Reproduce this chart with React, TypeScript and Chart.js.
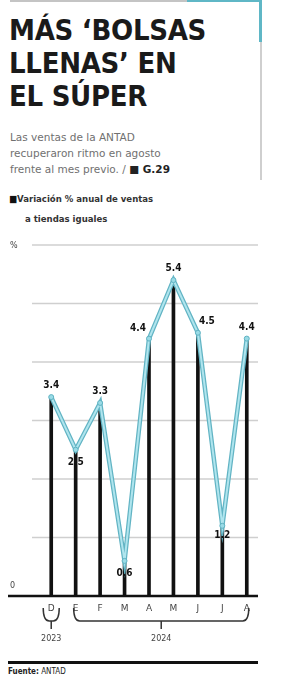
import React, { useEffect, useRef } from "react";
import { Chart, registerables } from "chart.js";

Chart.register(...registerables);

const categories = ["D", "E", "F", "M", "A", "M", "J", "J", "A"];
const values = [3.4, 2.5, 3.3, 0.6, 4.4, 5.4, 4.5, 1.2, 4.4];
const valueLabels = ["3.4", "2.5", "3.3", "0.6", "4.4", "5.4", "4.5", "1.2", "4.4"];
const labelOffsets = [
  [0, -12], [0, 13], [0, -12], [0, 13], [-11, -10], [0, -12], [9, -11], [0, 10], [0, -11],
];
const yTicks = [0, 1, 2, 3, 4, 5, 6];
const yTickLabels = ["0", "", "", "", "", "", "%"];
const years = [
  { label: "2023", from: 0, to: 0 },
  { label: "2024", from: 1, to: 8 },
];

const CANVAS_TOP = 225;
const CANVAS_H = 430;

const overlay = {
  id: "overlay",
  beforeDatasetsDraw(chart: any) {
    const { ctx } = chart;
    const y = chart.scales.y;
    ctx.save();
    yTicks.forEach((t) => {
      const py = y.getPixelForValue(t);
      if (t === 0) return;
      ctx.strokeStyle = "#cfcfcf";
      ctx.lineWidth = 1.5;
      ctx.beginPath();
      ctx.moveTo(32, py);
      ctx.lineTo(258, py);
      ctx.stroke();
    });
    ctx.restore();
  },
  afterDatasetsDraw(chart: any) {
    const { ctx } = chart;
    const x = chart.scales.x;
    const y = chart.scales.y;
    ctx.save();
    const p0 = y.getPixelForValue(0);
    ctx.strokeStyle = "#111";
    ctx.lineWidth = 2.5;
    ctx.beginPath();
    ctx.moveTo(8, p0);
    ctx.lineTo(258, p0);
    ctx.stroke();
    ctx.fillStyle = "#444";
    ctx.font = "8px 'DejaVu Sans'";
    ctx.textAlign = "left";
    ctx.textBaseline = "middle";
    yTicks.forEach((t, i) => {
      const lbl = yTickLabels[i];
      if (!lbl) return;
      const py = y.getPixelForValue(t);
      ctx.fillText(lbl, 10, t === 0 ? py - 10 : py + 1);
    });
    ctx.fillStyle = "#111";
    ctx.font = "bold 10px 'DejaVu Sans Condensed'";
    ctx.textAlign = "center";
    values.forEach((v, i) => {
      const px = x.getPixelForValue(i);
      const py = y.getPixelForValue(v);
      ctx.fillText(valueLabels[i], px + labelOffsets[i][0], py + labelOffsets[i][1]);
    });
    ctx.fillStyle = "#444";
    ctx.font = "9px 'DejaVu Sans'";
    categories.forEach((c, i) => {
      const px = x.getPixelForValue(i);
      ctx.fillText(c, px, p0 + 13);
    });
    ctx.strokeStyle = "#333";
    ctx.lineWidth = 1.5;
    years.forEach((yr) => {
      const a = x.getPixelForValue(yr.from);
      const b = x.getPixelForValue(yr.to);
      const top = p0 + 12;
      const mid = p0 + 25;
      let l = a - 2;
      let r = b + 2;
      if (yr.from === yr.to) {
        l = a - 8;
        r = a + 8;
      }
      const c = (l + r) / 2;
      ctx.beginPath();
      ctx.moveTo(l, top);
      ctx.quadraticCurveTo(l, mid, l + 6, mid);
      ctx.lineTo(r - 6, mid);
      ctx.quadraticCurveTo(r, mid, r, top);
      ctx.stroke();
      ctx.beginPath();
      ctx.moveTo(c, mid);
      ctx.lineTo(c, mid + 8);
      ctx.stroke();
      ctx.fillStyle = "#444";
      ctx.font = "8px 'DejaVu Sans'";
      ctx.fillText(yr.label, c, mid + 18);
    });
    ctx.restore();
  },
};

function ChartBox() {
  const ref = useRef<HTMLCanvasElement | null>(null);
  useEffect(() => {
    if (!ref.current) return;
    const chart = new Chart(ref.current, {
      type: "bar",
      data: {
        labels: categories,
        datasets: [
          {
            type: "line",
            data: values,
            borderColor: "#b0e5ee",
            borderWidth: 2,
            pointRadius: 2.5,
            pointBackgroundColor: "#9adbe6",
            pointBorderColor: "#5fb2c2",
            pointBorderWidth: 1,
            order: 1,
          } as any,
          {
            type: "line",
            data: values,
            borderColor: "#62b4c4",
            borderWidth: 4.5,
            pointRadius: 0,
            order: 2,
          } as any,
          {
            type: "bar",
            data: values,
            backgroundColor: "#111",
            barThickness: 3,
            order: 3,
          },
        ],
      },
      options: {
        animation: false,
        responsive: false,
        devicePixelRatio: 1,
        layout: { padding: { top: 20, bottom: 59, left: 39, right: 25 } },
        plugins: { legend: { display: false }, tooltip: { enabled: false } },
        scales: {
          x: { display: false },
          y: { display: false, min: 0, max: 6 },
        },
      },
      plugins: [overlay],
    });
    return () => chart.destroy();
  }, []);
  return (
    <canvas
      ref={ref}
      width={284}
      height={CANVAS_H}
      style={{ position: "absolute", left: 0, top: CANVAS_TOP, width: 284, height: CANVAS_H }}
    />
  );
}

export default function App() {
  return (
    <div
      style={{
        position: "absolute",
        left: 0,
        top: 0,
        width: 284,
        height: 676,
        overflow: "hidden",
        background: "#fff",
        fontFamily: "'DejaVu Sans Condensed', 'DejaVu Sans', sans-serif",
      }}
    >
      <div style={{ position: "absolute", left: 10, top: 0, width: 177, height: 2, background: "#c4c4c4" }} />
      <div style={{ position: "absolute", left: 187, top: 0, width: 75, height: 2, background: "#5fb7c6" }} />
      <div style={{ position: "absolute", left: 259, top: 0, width: 3, height: 42, background: "#5fb7c6" }} />
      <div style={{ position: "absolute", left: 260, top: 42, width: 2, height: 138, background: "#cfcfcf" }} />

      <div
        style={{
          position: "absolute",
          left: 9,
          top: 14,
          fontSize: 29,
          lineHeight: "33px",
          fontWeight: 700,
          color: "#1a1a1a",
          letterSpacing: -0.3,
        }}
      >
        MÁS ‘BOLSAS
        <br />
        LLENAS’ EN
        <br />
        EL SÚPER
      </div>

      <div
        style={{
          position: "absolute",
          left: 10,
          top: 129,
          fontSize: 10.5,
          lineHeight: "16px",
          color: "#707070",
          fontFamily: "'DejaVu Sans', sans-serif",
        }}
      >
        Las ventas de la ANTAD
        <br />
        recuperaron ritmo en agosto
        <br />
        frente al mes previo. / <span style={{ color: "#222", fontWeight: 700 }}>■ G.29</span>
      </div>

      <div
        style={{
          position: "absolute",
          left: 9,
          top: 189,
          fontSize: 9.5,
          lineHeight: "20px",
          color: "#333",
          fontWeight: 700,
        }}
      >
        <span style={{ color: "#111" }}>■</span>Variación % anual de ventas
        <br />
        <span style={{ paddingLeft: 16 }}>a tiendas iguales</span>
      </div>

      <ChartBox />

      <div style={{ position: "absolute", left: 8, top: 661, width: 250, height: 2.5, background: "#111" }} />
      <div
        style={{
          position: "absolute",
          left: 8,
          top: 667,
          fontSize: 8,
          lineHeight: "10px",
          color: "#222",
        }}
      >
        <b>Fuente:</b> ANTAD
      </div>
    </div>
  );
}
